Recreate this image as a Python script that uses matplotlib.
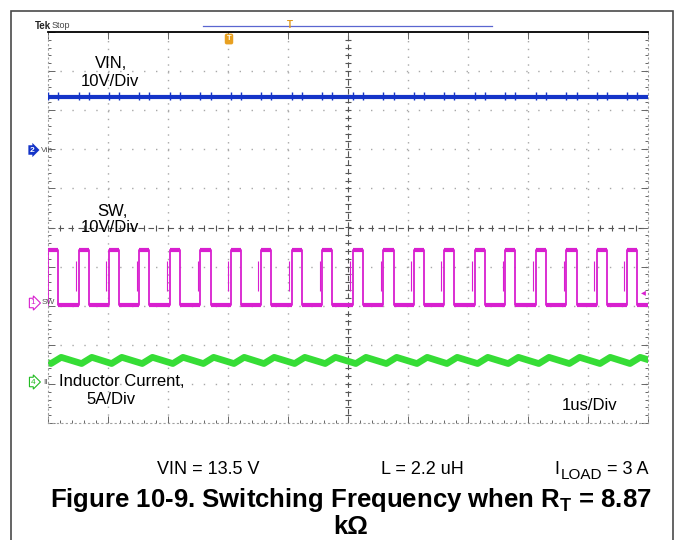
import numpy as np
import matplotlib.pyplot as plt
from matplotlib.patches import Rectangle

plt.rcParams['font.family'] = ['Liberation Sans', 'DejaVu Sans']
plt.rcParams['mathtext.fontset'] = 'custom'
plt.rcParams['mathtext.rm'] = 'Liberation Sans'
plt.rcParams['mathtext.bf'] = 'Liberation Sans:bold'

# scope settings (10 div x 10 div screen, 1us/div)
vin_scale, vin_offset = 10.0, 2.0      # V/div, ground marker in div
sw_scale, sw_offset = 10.0, -1.93
il_scale, il_offset = 5.0, -4.0        # A/div

# measured values
vin_v = 13.5
vin_spike_v = 1.1
sw_high_v = 13.5
sw_low_v = -0.4
iload_a = 3.0
ripple_pp_a = 0.8
il_lag_us = 0.05

# switch node edges (us from left edge)
rise_us = [0.00, 0.51, 1.01, 1.52, 2.03, 2.54, 3.05, 3.55, 4.06, 4.57,
           5.08, 5.59, 6.10, 6.60, 7.11, 7.62, 8.13, 8.64, 9.15, 9.65]
fall_us = [0.17, 0.68, 1.18, 1.69, 2.20, 2.71, 3.22, 3.72, 4.23, 4.74,
           5.25, 5.76, 6.27, 6.77, 7.28, 7.79, 8.30, 8.81, 9.32, 9.82]

BLUE = '#1434c8'
MAGENTA = '#d81fcf'
GREEN = '#36dd36'

W, H = 676, 540
fig = plt.figure(figsize=(W / 100, H / 100), dpi=100)


def fx(x):
    return x / W


def fy(y):
    return 1 - y / H


# outer frame
fig.patches.append(Rectangle((fx(10.5), fy(560)), fx(673) - fx(10.5), fy(10.5) - fy(560),
                             transform=fig.transFigure, fill=False, ec='#4a4a4a', lw=1.2))

ax = fig.add_axes([fx(48), fy(423), 600 / W, 391 / H])
ax.set_xlim(0, 10)
ax.set_ylim(-5, 5)

# graticule
for x in range(1, 10):
    if x != 5:
        ax.axvline(x, color='#a8a8a8', lw=1, dashes=(1, 4.6), zorder=1)
for y in range(-4, 5):
    if y != 0:
        ax.axhline(y, color='#a8a8a8', lw=1, dashes=(1, 7.6), zorder=1)
ax.axhline(0, color='#555555', lw=0.8, dashes=(5, 4), zorder=1)
ax.axvline(5, color='#555555', lw=0.8, dashes=(5, 3), zorder=1)
minor_x = np.arange(0.2, 10, 0.2)
minor_y = np.arange(-4.8, 5, 0.2)
ax.plot(minor_x, np.zeros_like(minor_x), ls='none', marker='|', ms=4, mew=0.8, color='#555555', zorder=1)
ax.plot(np.full_like(minor_y, 5), minor_y, ls='none', marker='_', ms=4, mew=0.8, color='#555555', zorder=1)

for side in ['left', 'right', 'bottom']:
    ax.spines[side].set_color('#a0a0a0')
    ax.spines[side].set_linestyle((0, (1, 3)))
ax.spines['top'].set_color('black')
ax.spines['top'].set_linewidth(1.3)
ax.set_xticks(range(11))
ax.set_xticks(minor_x, minor=True)
ax.set_yticks(range(-5, 6))
ax.set_yticks(minor_y, minor=True)
ax.tick_params(which='both', direction='in', top=True, right=True, bottom=True, left=True,
               labelbottom=False, labelleft=False, color='#666666', width=0.7)
ax.tick_params(which='minor', top=False)
ax.tick_params(which='major', length=5)
ax.tick_params(which='minor', length=2.5)
ax.set_facecolor('white')

# VIN trace with switching spikes
vin_lvl = vin_offset + vin_v / vin_scale
sp = vin_spike_v / vin_scale
edges = sorted(rise_us + fall_us)
ax.plot([0, 10], [vin_lvl, vin_lvl], color=BLUE, lw=3.0, zorder=4)
ax.vlines(edges, vin_lvl - 0.8 * sp, vin_lvl + sp, color=BLUE, lw=1.0, zorder=4)

# SW node
hi = sw_offset + sw_high_v / sw_scale
lo = sw_offset + sw_low_v / sw_scale
ts, vs = [], []
for r, f in zip(rise_us, fall_us):
    ts += [r, r, f, f]
    vs += [lo, hi, hi, lo]
ts.append(10.0)
vs.append(lo)
n = len(rise_us)
ax.plot(ts, vs, color=MAGENTA, lw=1.3, zorder=3)
ax.hlines(np.full(n, hi), rise_us, fall_us, color=MAGENTA, lw=3, zorder=3)
ax.hlines(np.full(n, lo), fall_us, rise_us[1:] + [10.0], color=MAGENTA, lw=3, zorder=3)
ax.vlines(np.array(rise_us[1:]) - 0.045, lo + 0.25 * (hi - lo), hi - 0.2 * (hi - lo),
          color=MAGENTA, lw=0.8, zorder=3)

# inductor current (triangle ripple following SW edges)
period = np.mean(np.diff(rise_us))
ti, ii = [], []
for r, f in zip(rise_us, fall_us):
    ti += [r + il_lag_us, f + il_lag_us]
    ii += [iload_a - ripple_pp_a / 2, iload_a + ripple_pp_a / 2]
ti_ext = [fall_us[0] + il_lag_us - period] + ti + [rise_us[-1] + period + il_lag_us]
ii_ext = [iload_a + ripple_pp_a / 2] + ii + [iload_a - ripple_pp_a / 2]
t_il = np.concatenate(([0.0], ti, [10.0]))
i_il = np.interp(t_il, ti_ext, ii_ext)
ax.plot(t_il, il_offset + i_il / il_scale, color=GREEN, lw=4.8, zorder=2, solid_joinstyle='round')

# labels inside the screen
lab = dict(fontsize=12, color='black', ha='center', va='center', zorder=6)
fig.text(fx(111), fy(63), 'VIN,', **lab)
fig.text(fx(110), fy(82), '10V/Div', **lab)
fig.text(fx(112), fy(211), 'SW,', **lab)
fig.text(fx(110), fy(227), '10V/Div', **lab)
fig.text(fx(122), fy(381), 'Inductor Current,', **lab)
fig.text(fx(111), fy(400), '5A/Div', **lab)
fig.text(fx(590), fy(406), '1us/Div', **lab)

# scope header
fig.text(fx(35), fy(26), 'Tek', fontsize=7, fontweight='bold', va='center', color='#222222')
fig.text(fx(52), fy(26), 'Stop', fontsize=6.5, va='center', color='#444444')
fig.add_artist(plt.Line2D([fx(203), fx(492)], [fy(26), fy(26)], color='#5a66d0', lw=0.9))
fig.text(fx(290), fy(25), 'T', fontsize=7, fontweight='bold', color='#e09a20', ha='center', va='center')
fig.text(fx(229), fy(39), 'T', fontsize=5.5, fontweight='bold', color='white', ha='center', va='center',
         bbox=dict(boxstyle='round,pad=0.25', fc='#e8a020', ec='none'))

# channel markers
fig.text(fx(32), fy(150), '2', fontsize=6, fontweight='bold', color='white', ha='center', va='center',
         bbox=dict(boxstyle='rarrow,pad=0.15', fc=BLUE, ec='none'))
fig.text(fx(41), fy(150), 'Vin', fontsize=6, color='#555555', va='center')
fig.text(fx(33), fy(303), '1', fontsize=6, color=MAGENTA, ha='center', va='center',
         bbox=dict(boxstyle='rarrow,pad=0.15', fc='white', ec=MAGENTA, lw=0.8))
fig.text(fx(42), fy(303), 'SW', fontsize=6, color='#555555', va='center')
fig.text(fx(33), fy(382), '4', fontsize=6, color='#22bb22', ha='center', va='center',
         bbox=dict(boxstyle='rarrow,pad=0.15', fc='white', ec='#22bb22', lw=0.8))
fig.text(fx(43), fy(382), 'II', fontsize=6, color='#555555', va='center')
fig.text(fx(643), fy(292), '\u25c2', fontsize=7, color=MAGENTA, ha='center', va='center',
         family='DejaVu Sans')

# conditions and caption
cond = dict(fontsize=13, va='baseline')
fig.text(fx(208), fy(474), 'VIN = 13.5 V', ha='center', **cond)
fig.text(fx(422), fy(474), 'L = 2.2 uH', ha='center', **cond)
fig.text(fx(554), fy(474), 'I', ha='left', **cond)
fig.text(fx(561), fy(479), 'LOAD', ha='left', fontsize=11, va='baseline')
fig.text(fx(607), fy(474), '= 3 A', ha='left', **cond)
fig.text(fx(351), fy(500), r'Figure 10-9. Switching Frequency when $\mathbf{R_T}$ = 8.87',
         fontsize=18.5, fontweight='bold', ha='center', va='center')
fig.text(fx(351), fy(527), 'k\u03a9', fontsize=18.5, fontweight='bold', ha='center', va='center')

fig.savefig('out.png', dpi=100)
